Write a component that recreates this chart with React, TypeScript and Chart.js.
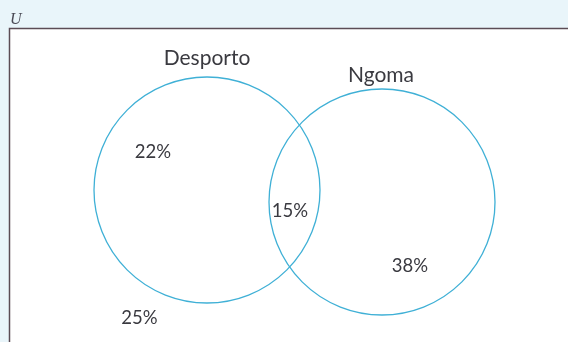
import React, { useEffect, useRef } from "react";
import { Chart, registerables } from "chart.js";

Chart.register(...registerables);

// Data
const setNames = ["Desporto", "Ngoma"];
const setCenters = [
  { x: 207, y: 190 },
  { x: 382, y: 202 },
];
const setRadius = [113, 113];
const regionLabels = ["22%", "15%", "38%", "25%"];
const universeLabel = "U";

// Layout (label anchor positions in data coords)
const setLabelPos = [
  { x: 207, y: 58 },
  { x: 381, y: 75 },
];
const regionLabelPos = [
  { x: 153, y: 152 },
  { x: 290, y: 211 },
  { x: 410, y: 266 },
  { x: 139.5, y: 318 },
];

const W = 568;
const H = 342;

const vennPlugin = {
  id: "venn",
  beforeDraw(chart: any) {
    const ctx = chart.ctx;
    const sx = chart.scales.x;
    const sy = chart.scales.y;
    ctx.save();
    ctx.fillStyle = "#e9f5fa";
    ctx.fillRect(0, 0, W, H);
    const bx = sx.getPixelForValue(9.5);
    const by = sy.getPixelForValue(28.5);
    ctx.fillStyle = "#ffffff";
    ctx.fillRect(bx, by, W, H);
    ctx.strokeStyle = "#5b4c55";
    ctx.lineWidth = 1.5;
    ctx.beginPath();
    ctx.moveTo(bx, H + 2);
    ctx.lineTo(bx, by);
    ctx.lineTo(W + 2, by);
    ctx.stroke();
    ctx.fillStyle = "#4a4a55";
    ctx.font = "italic 16px 'Liberation Serif', serif";
    ctx.textAlign = "left";
    ctx.textBaseline = "alphabetic";
    ctx.fillText(universeLabel, sx.getPixelForValue(10), sy.getPixelForValue(24));
    ctx.restore();
  },
  afterDatasetsDraw(chart: any) {
    const ctx = chart.ctx;
    const sx = chart.scales.x;
    const sy = chart.scales.y;
    ctx.save();
    ctx.fillStyle = "#3a3a40";
    ctx.textAlign = "center";
    ctx.textBaseline = "middle";
    ctx.font = "21px Lato, 'Open Sans', sans-serif";
    setNames.forEach((n, i) => {
      ctx.fillText(n, sx.getPixelForValue(setLabelPos[i].x), sy.getPixelForValue(setLabelPos[i].y));
    });
    ctx.font = "18.5px Lato, 'Open Sans', sans-serif";
    regionLabels.forEach((t, i) => {
      ctx.fillText(t, sx.getPixelForValue(regionLabelPos[i].x), sy.getPixelForValue(regionLabelPos[i].y));
    });
    ctx.restore();
  },
};

export default function App() {
  const ref = useRef<HTMLCanvasElement>(null);
  useEffect(() => {
    if (!ref.current) return;
    const chart = new Chart(ref.current, {
      type: "bubble",
      data: {
        datasets: [
          {
            data: setCenters.map((c, i) => ({ x: c.x, y: c.y, r: setRadius[i] })),
            borderColor: "#3fb0d6",
            backgroundColor: "rgba(0,0,0,0)",
            borderWidth: 1.3,
            clip: false,
          } as any,
        ],
      },
      options: {
        animation: false,
        responsive: false,
        maintainAspectRatio: false,
        layout: { padding: 0, autoPadding: false },
        plugins: { legend: { display: false }, tooltip: { enabled: false } },
        scales: {
          x: { type: "linear", min: 0, max: W, display: false },
          y: { type: "linear", min: 0, max: H, reverse: true, display: false },
        },
      },
      plugins: [vennPlugin],
    });
    return () => chart.destroy();
  }, []);
  return (
    <div style={{ position: "fixed", left: 0, top: 0, width: W, height: H }}>
      <canvas ref={ref} width={W} height={H} style={{ width: W, height: H }} />
    </div>
  );
}
